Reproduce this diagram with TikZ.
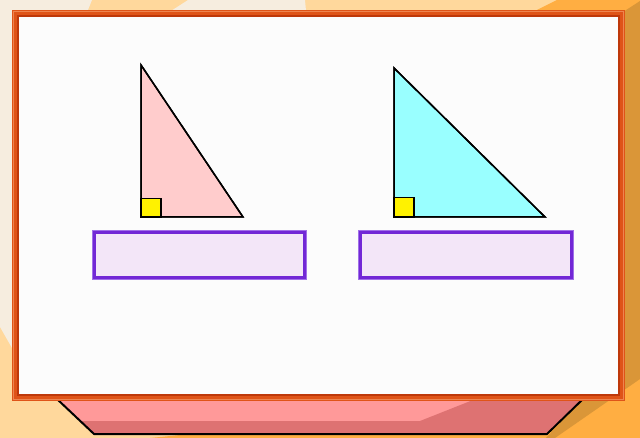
\documentclass[tikz,border=0pt]{standalone}
\begin{document}
\definecolor{cream}{HTML}{F6EDDF}
\definecolor{lorange}{HTML}{FFD89C}
\definecolor{orng}{HTML}{FFAE42}
\definecolor{dorng}{HTML}{DA9638}
\definecolor{framec}{HTML}{DF5418}
\definecolor{framelt}{HTML}{EE8550}
\definecolor{framedk}{HTML}{BE380A}
\definecolor{pinklt}{HTML}{FF9999}
\definecolor{pinkdk}{HTML}{DE7272}
\definecolor{tripink}{HTML}{FFCCCC}
\definecolor{tricyan}{HTML}{99FFFF}
\definecolor{boxfill}{HTML}{F3E6F8}
\definecolor{boxline}{HTML}{7228D6}
\definecolor{boxglow}{HTML}{A070E8}
\begin{tikzpicture}[x=1pt,y=-1pt,
  tri/.style={draw=black,line width=1.5pt,line join=miter},
  rightsq/.style={draw=black,fill=yellow,line width=1.5pt},
  answerbox/.style={draw=boxline,fill=boxfill,line width=3pt,inner sep=0pt},
  ]
\useasboundingbox (0,0) rectangle (640,438);
% background
\fill[lorange] (0,0) rectangle (640,438);
\fill[cream] (0,0) -- (92,0) -- (88,10) -- (40,200) -- (12,348) -- (0,327) -- cycle;
\fill[cream] (188,0) -- (305,0) -- (306,11) -- (171,11) -- cycle;
\fill[orng] (557,0) -- (640,0) -- (640,438) -- (150,438) -- (330,420) -- (537,10) -- cycle;
\fill[dorng] (620,14) -- (640,1) -- (640,379) -- (555,438) -- (546,438) -- (583,399) -- (624,399) -- cycle;
% tray below frame
\fill[pinklt] (57,399) -- (583,399) -- (547,434) -- (94,434) -- cycle;
\fill[pinkdk] (79,421) -- (420,421) -- (473,400) -- (583,400) -- (547,434) -- (94,434) -- cycle;
\draw[black,line width=2pt,line join=round] (57,399) -- (94,434) -- (547,434) -- (583,399);
% frame
\fill[framec] (12,10) rectangle (625,401);
\draw[framelt,line width=1.2pt] (13.5,11.5) rectangle (623.5,399.5);
\draw[framec,line width=2pt] (15.5,13.5) rectangle (621.5,397.5);
\draw[framedk,line width=1.4pt] (18,16) rectangle (619,395);
\fill[white!99!black] (19,17) rectangle (618,394);
% left triangle
\path[tri,fill=tripink] (141,65) -- (141,217) -- (243,217) -- cycle;
\draw[rightsq] (141,198.5) rectangle (161,217);
\draw[tri] (141,65) -- (141,217) -- (243,217) -- cycle;
% right triangle
\path[tri,fill=tricyan] (394,68) -- (394,217) -- (545,217) -- cycle;
\draw[rightsq] (394,197.5) rectangle (414,217);
\draw[tri] (394,68) -- (394,217) -- (545,217) -- cycle;
% answer boxes
\draw[boxglow,line width=1pt] (92.5,230.5) rectangle (306.5,279.5);
\node[answerbox,minimum width=210pt,minimum height=45pt] (boxL) at (199.5,255) {};
\draw[boxglow,line width=1pt] (358.5,230.5) rectangle (573.5,279.5);
\node[answerbox,minimum width=211pt,minimum height=45pt] (boxR) at (466,255) {};
\end{tikzpicture}
\end{document}
